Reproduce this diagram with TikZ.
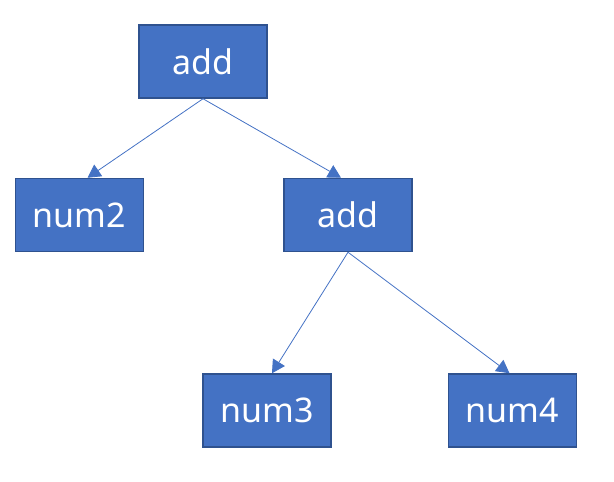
\documentclass[tikz,border=0pt]{standalone}
\usepackage{fontspec}
\setmainfont{Noto Sans}
\usetikzlibrary{arrows.meta}
\definecolor{boxblue}{RGB}{68, 114, 196}
\definecolor{edgeblue}{RGB}{47, 82, 143}

\begin{document}
\begin{tikzpicture}[x=1pt, y=-1pt, >={Triangle[length=13pt, width=14pt]}]
        \useasboundingbox (0,0) rectangle (614,482);
        \tikzset{treebox/.style={rectangle, draw=edgeblue, fill=boxblue, line width=1.5pt, minimum width=128pt, minimum height=73pt, inner sep=0pt, text=white, font=\fontsize{34}{40}\selectfont}}

        % Root
        \node[treebox] (AR) at (203,61.5) {add};

        % Level 1
        \node[treebox] (N2) at (79.5,215) {num2};
        \node[treebox] (AM) at (348,215) {add};

        % Level 2
        \node[treebox] (N3) at (267,410.5) {num3};
        \node[treebox] (N4) at (512.5,410.5) {num4};

        % Connections
        \draw[boxblue, line width=0.8pt, ->] (AR.south) -- ([xshift=8pt]N2.north);
        \draw[boxblue, line width=0.8pt, ->] (AR.south) -- ([xshift=-7pt]AM.north);
        \draw[boxblue, line width=0.8pt, ->] (AM.south) -- ([xshift=5pt]N3.north);
        \draw[boxblue, line width=0.8pt, ->] (AM.south) -- ([xshift=-3pt]N4.north);

    \end{tikzpicture}
\end{document}
